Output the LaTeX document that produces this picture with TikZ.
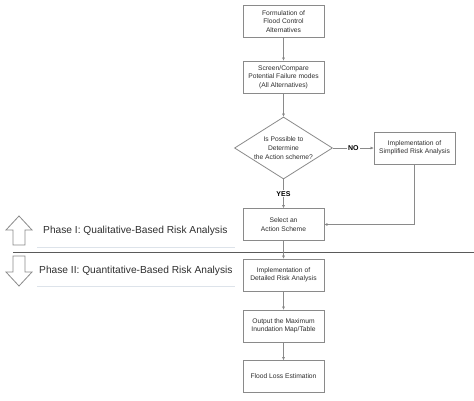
\documentclass[tikz,border=0pt]{standalone}
\usepackage{fontspec}
\setmainfont{Liberation Sans}
\usetikzlibrary{shapes.geometric,arrows.meta}
\definecolor{boxline}{HTML}{8A8A8A}
\definecolor{txt}{HTML}{2E2E2E}
\definecolor{sepline}{HTML}{5A5A5A}
\definecolor{ulinec}{HTML}{DDE3EA}
\tikzset{
  flowbox/.style={draw=boxline, line width=0.8pt, fill=white, minimum width=81pt, minimum height=32pt,
    inner sep=1pt, align=center, text=txt, font=\fontsize{6.7}{8.5}\selectfont},
  decide/.style={draw=boxline, line width=0.8pt, shape=diamond, minimum width=98pt, minimum height=62pt,
    aspect=1.58, inner sep=0pt, align=center, text=txt, font=\fontsize{6.7}{9.3}\selectfont},
  conn/.style={draw=boxline, line width=0.8pt, -{Triangle[length=3pt,width=2.6pt,fill=txt]}},
  lbl/.style={fill=white, inner sep=1pt, text=black, font=\fontsize{7}{8}\selectfont\bfseries},
  phase/.style={anchor=west, text=txt, inner sep=0pt, font=\fontsize{10.2}{12}\selectfont},
  bigarrow/.style={draw=boxline, line width=0.8pt, fill=white, line join=miter}
}
\begin{document}
\begin{tikzpicture}[x=1pt,y=-1pt]
\useasboundingbox (0,0) rectangle (474,400);
% separator line
\draw[sepline, line width=0.9pt] (13,252) -- (474,252);
% phase underlines
\draw[ulinec, line width=0.8pt] (37,247) -- (235,247);
\draw[ulinec, line width=0.8pt] (37,286) -- (235,286);
% nodes
\node[flowbox] (f1) at (283.5,21.5) {Formulation of\\Flood Control\\Alternatives};
\node[flowbox] (f2) at (283.5,77) {Screen/Compare\\Potential Failure modes\\(All Alternatives)};
\node[decide] (d) at (283.5,148) {Is Possible to\\Determine\\the Action scheme?};
\node[flowbox] (s) at (414.5,148) {Implementation of\\Simplified Risk Analysis};
\node[flowbox] (a) at (283.5,224.5) {Select an\\Action Scheme};
\node[flowbox] (r) at (283.5,275) {Implementation of\\Detailed Risk Analysis};
\node[flowbox] (o) at (283.5,326) {Output the Maximum\\Inundation Map/Table};
\node[flowbox] (l) at (283.5,376.5) {Flood Loss Estimation};
% connectors
\draw[conn] (f1) -- (f2);
\draw[conn] (f2) -- (d.north);
\draw[conn] (d.east) -- node[lbl] (no) {NO} (s.west);
\draw[conn] (d.south) -- node[lbl, pos=0.5] (yes) {YES} (a.north);
\draw[conn] (s.south) |- (a.east);
\draw[conn] (a) -- (r);
\draw[conn] (r) -- (o);
\draw[conn] (o) -- (l);
% phase arrows
\draw[bigarrow] (19,216) -- (32,230) -- (25,230) -- (25,245) -- (13,245) -- (13,230) -- (6,230) -- cycle;
\draw[bigarrow] (19,286) -- (32,272) -- (25,272) -- (25,256) -- (13,256) -- (13,272) -- (6,272) -- cycle;
% phase texts
\node[phase] (p1) at (43,230.5) {Phase I: Qualitative-Based Risk Analysis};
\node[phase] (p2) at (39,270.5) {Phase II: Quantitative-Based Risk Analysis};
\end{tikzpicture}
\end{document}
